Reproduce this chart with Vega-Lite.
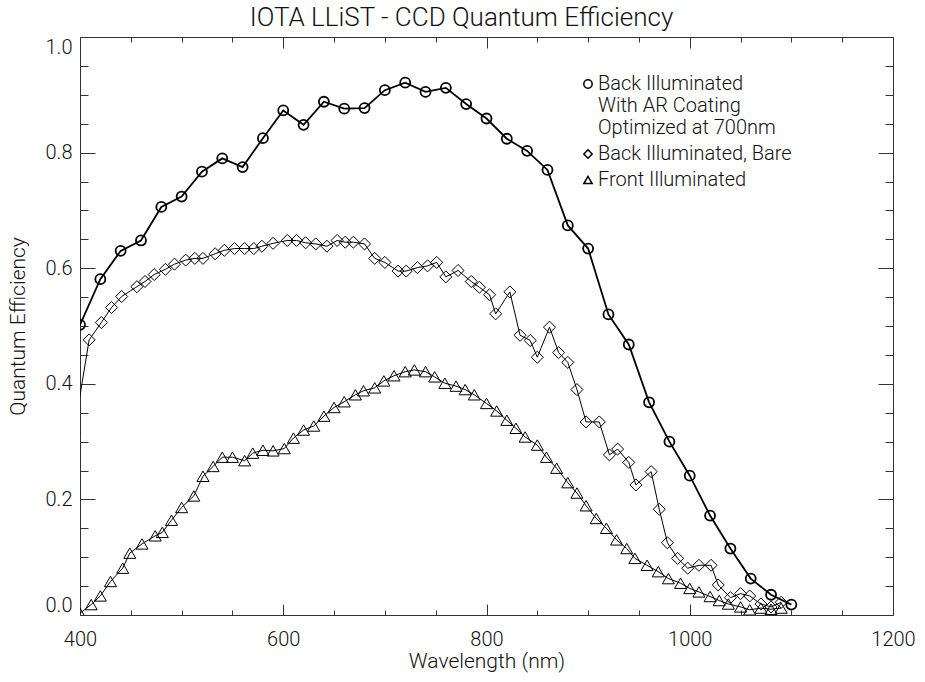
{
  "$schema": "https://vega.github.io/schema/vega-lite/v6.json",
  "width": 813,
  "height": 578,
  "autosize": "none",
  "padding": {"left": 80, "top": 37, "right": 32, "bottom": 67},
  "background": "white",
  "config": {
    "font": "Roboto",
    "view": {"stroke": null},
    "axis": {
      "domainColor": "#333",
      "tickColor": "#333",
      "labelColor": "#111",
      "titleColor": "#111",
      "labelFont": "Roboto",
      "titleFont": "Roboto",
      "labelFontSize": 20,
      "labelFontWeight": 300,
      "titleFontSize": 21,
      "titleFontWeight": 300,
      "grid": false,
      "domainWidth": 1,
      "tickWidth": 1
    }
  },
  "title": {
    "text": "IOTA LLiST - CCD Quantum Efficiency",
    "font": "Roboto",
    "fontSize": 26,
    "fontWeight": 300,
    "color": "#111",
    "anchor": "middle",
    "offset": 6,
    "dx": -25
  },
  "data": {
    "values": [
      {"series": "AR", "wl": 400, "qe": 0.502},
      {"series": "AR", "wl": 420, "qe": 0.581},
      {"series": "AR", "wl": 440, "qe": 0.630},
      {"series": "AR", "wl": 460, "qe": 0.648},
      {"series": "AR", "wl": 480, "qe": 0.706},
      {"series": "AR", "wl": 500, "qe": 0.724},
      {"series": "AR", "wl": 520, "qe": 0.767},
      {"series": "AR", "wl": 540, "qe": 0.790},
      {"series": "AR", "wl": 560, "qe": 0.775},
      {"series": "AR", "wl": 580, "qe": 0.825},
      {"series": "AR", "wl": 600, "qe": 0.873},
      {"series": "AR", "wl": 620, "qe": 0.848},
      {"series": "AR", "wl": 640, "qe": 0.888},
      {"series": "AR", "wl": 660, "qe": 0.876},
      {"series": "AR", "wl": 680, "qe": 0.877},
      {"series": "AR", "wl": 700, "qe": 0.908},
      {"series": "AR", "wl": 720, "qe": 0.921},
      {"series": "AR", "wl": 740, "qe": 0.905},
      {"series": "AR", "wl": 760, "qe": 0.912},
      {"series": "AR", "wl": 780, "qe": 0.884},
      {"series": "AR", "wl": 800, "qe": 0.859},
      {"series": "AR", "wl": 820, "qe": 0.824},
      {"series": "AR", "wl": 840, "qe": 0.803},
      {"series": "AR", "wl": 860, "qe": 0.770},
      {"series": "AR", "wl": 880, "qe": 0.674},
      {"series": "AR", "wl": 900, "qe": 0.634},
      {"series": "AR", "wl": 920, "qe": 0.520},
      {"series": "AR", "wl": 940, "qe": 0.468},
      {"series": "AR", "wl": 960, "qe": 0.368},
      {"series": "AR", "wl": 980, "qe": 0.300},
      {"series": "AR", "wl": 1000, "qe": 0.241},
      {"series": "AR", "wl": 1020, "qe": 0.172},
      {"series": "AR", "wl": 1040, "qe": 0.115},
      {"series": "AR", "wl": 1060, "qe": 0.063},
      {"series": "AR", "wl": 1080, "qe": 0.035},
      {"series": "AR", "wl": 1100, "qe": 0.018},
      {"series": "Bare", "wl": 394, "qe": 0.316},
      {"series": "Bare", "wl": 409, "qe": 0.476},
      {"series": "Bare", "wl": 421, "qe": 0.506},
      {"series": "Bare", "wl": 431, "qe": 0.532},
      {"series": "Bare", "wl": 441, "qe": 0.551},
      {"series": "Bare", "wl": 456, "qe": 0.568},
      {"series": "Bare", "wl": 464, "qe": 0.577},
      {"series": "Bare", "wl": 473, "qe": 0.589},
      {"series": "Bare", "wl": 484, "qe": 0.598},
      {"series": "Bare", "wl": 493, "qe": 0.607},
      {"series": "Bare", "wl": 504, "qe": 0.614},
      {"series": "Bare", "wl": 513, "qe": 0.617},
      {"series": "Bare", "wl": 521, "qe": 0.617},
      {"series": "Bare", "wl": 533, "qe": 0.625},
      {"series": "Bare", "wl": 542, "qe": 0.631},
      {"series": "Bare", "wl": 552, "qe": 0.634},
      {"series": "Bare", "wl": 562, "qe": 0.634},
      {"series": "Bare", "wl": 571, "qe": 0.634},
      {"series": "Bare", "wl": 579, "qe": 0.638},
      {"series": "Bare", "wl": 590, "qe": 0.643},
      {"series": "Bare", "wl": 604, "qe": 0.648},
      {"series": "Bare", "wl": 613, "qe": 0.648},
      {"series": "Bare", "wl": 622, "qe": 0.644},
      {"series": "Bare", "wl": 632, "qe": 0.642},
      {"series": "Bare", "wl": 643, "qe": 0.638},
      {"series": "Bare", "wl": 653, "qe": 0.648},
      {"series": "Bare", "wl": 661, "qe": 0.645},
      {"series": "Bare", "wl": 669, "qe": 0.645},
      {"series": "Bare", "wl": 680, "qe": 0.642},
      {"series": "Bare", "wl": 690, "qe": 0.617},
      {"series": "Bare", "wl": 700, "qe": 0.610},
      {"series": "Bare", "wl": 713, "qe": 0.595},
      {"series": "Bare", "wl": 721, "qe": 0.595},
      {"series": "Bare", "wl": 732, "qe": 0.601},
      {"series": "Bare", "wl": 742, "qe": 0.604},
      {"series": "Bare", "wl": 751, "qe": 0.610},
      {"series": "Bare", "wl": 760, "qe": 0.585},
      {"series": "Bare", "wl": 772, "qe": 0.596},
      {"series": "Bare", "wl": 785, "qe": 0.577},
      {"series": "Bare", "wl": 793, "qe": 0.567},
      {"series": "Bare", "wl": 803, "qe": 0.554},
      {"series": "Bare", "wl": 809, "qe": 0.521},
      {"series": "Bare", "wl": 823, "qe": 0.559},
      {"series": "Bare", "wl": 833, "qe": 0.484},
      {"series": "Bare", "wl": 843, "qe": 0.475},
      {"series": "Bare", "wl": 850, "qe": 0.446},
      {"series": "Bare", "wl": 862, "qe": 0.498},
      {"series": "Bare", "wl": 871, "qe": 0.454},
      {"series": "Bare", "wl": 880, "qe": 0.437},
      {"series": "Bare", "wl": 889, "qe": 0.390},
      {"series": "Bare", "wl": 898, "qe": 0.334},
      {"series": "Bare", "wl": 911, "qe": 0.334},
      {"series": "Bare", "wl": 921, "qe": 0.277},
      {"series": "Bare", "wl": 929, "qe": 0.287},
      {"series": "Bare", "wl": 940, "qe": 0.264},
      {"series": "Bare", "wl": 947, "qe": 0.225},
      {"series": "Bare", "wl": 962, "qe": 0.248},
      {"series": "Bare", "wl": 970, "qe": 0.183},
      {"series": "Bare", "wl": 978, "qe": 0.125},
      {"series": "Bare", "wl": 988, "qe": 0.098},
      {"series": "Bare", "wl": 998, "qe": 0.081},
      {"series": "Bare", "wl": 1009, "qe": 0.086},
      {"series": "Bare", "wl": 1021, "qe": 0.086},
      {"series": "Bare", "wl": 1028, "qe": 0.052},
      {"series": "Bare", "wl": 1040, "qe": 0.030},
      {"series": "Bare", "wl": 1050, "qe": 0.037},
      {"series": "Bare", "wl": 1059, "qe": 0.033},
      {"series": "Bare", "wl": 1070, "qe": 0.019},
      {"series": "Bare", "wl": 1080, "qe": 0.014},
      {"series": "Bare", "wl": 1090, "qe": 0.022},
      {"series": "Front", "wl": 400, "qe": 0.003},
      {"series": "Front", "wl": 411, "qe": 0.018},
      {"series": "Front", "wl": 420, "qe": 0.033},
      {"series": "Front", "wl": 430, "qe": 0.058},
      {"series": "Front", "wl": 442, "qe": 0.081},
      {"series": "Front", "wl": 449, "qe": 0.107},
      {"series": "Front", "wl": 461, "qe": 0.123},
      {"series": "Front", "wl": 474, "qe": 0.137},
      {"series": "Front", "wl": 481, "qe": 0.143},
      {"series": "Front", "wl": 490, "qe": 0.164},
      {"series": "Front", "wl": 500, "qe": 0.186},
      {"series": "Front", "wl": 512, "qe": 0.206},
      {"series": "Front", "wl": 521, "qe": 0.240},
      {"series": "Front", "wl": 531, "qe": 0.257},
      {"series": "Front", "wl": 540, "qe": 0.273},
      {"series": "Front", "wl": 550, "qe": 0.273},
      {"series": "Front", "wl": 562, "qe": 0.267},
      {"series": "Front", "wl": 570, "qe": 0.280},
      {"series": "Front", "wl": 580, "qe": 0.285},
      {"series": "Front", "wl": 590, "qe": 0.284},
      {"series": "Front", "wl": 601, "qe": 0.288},
      {"series": "Front", "wl": 610, "qe": 0.306},
      {"series": "Front", "wl": 620, "qe": 0.320},
      {"series": "Front", "wl": 630, "qe": 0.327},
      {"series": "Front", "wl": 640, "qe": 0.344},
      {"series": "Front", "wl": 650, "qe": 0.359},
      {"series": "Front", "wl": 660, "qe": 0.369},
      {"series": "Front", "wl": 671, "qe": 0.381},
      {"series": "Front", "wl": 679, "qe": 0.388},
      {"series": "Front", "wl": 690, "qe": 0.393},
      {"series": "Front", "wl": 699, "qe": 0.405},
      {"series": "Front", "wl": 709, "qe": 0.414},
      {"series": "Front", "wl": 720, "qe": 0.421},
      {"series": "Front", "wl": 729, "qe": 0.424},
      {"series": "Front", "wl": 740, "qe": 0.421},
      {"series": "Front", "wl": 749, "qe": 0.412},
      {"series": "Front", "wl": 759, "qe": 0.401},
      {"series": "Front", "wl": 770, "qe": 0.396},
      {"series": "Front", "wl": 779, "qe": 0.390},
      {"series": "Front", "wl": 788, "qe": 0.381},
      {"series": "Front", "wl": 800, "qe": 0.366},
      {"series": "Front", "wl": 810, "qe": 0.353},
      {"series": "Front", "wl": 820, "qe": 0.337},
      {"series": "Front", "wl": 829, "qe": 0.323},
      {"series": "Front", "wl": 838, "qe": 0.308},
      {"series": "Front", "wl": 850, "qe": 0.294},
      {"series": "Front", "wl": 859, "qe": 0.273},
      {"series": "Front", "wl": 869, "qe": 0.254},
      {"series": "Front", "wl": 880, "qe": 0.229},
      {"series": "Front", "wl": 889, "qe": 0.211},
      {"series": "Front", "wl": 898, "qe": 0.189},
      {"series": "Front", "wl": 908, "qe": 0.167},
      {"series": "Front", "wl": 918, "qe": 0.150},
      {"series": "Front", "wl": 928, "qe": 0.130},
      {"series": "Front", "wl": 938, "qe": 0.115},
      {"series": "Front", "wl": 946, "qe": 0.098},
      {"series": "Front", "wl": 958, "qe": 0.086},
      {"series": "Front", "wl": 969, "qe": 0.075},
      {"series": "Front", "wl": 979, "qe": 0.063},
      {"series": "Front", "wl": 991, "qe": 0.055},
      {"series": "Front", "wl": 1000, "qe": 0.046},
      {"series": "Front", "wl": 1009, "qe": 0.040},
      {"series": "Front", "wl": 1020, "qe": 0.032},
      {"series": "Front", "wl": 1029, "qe": 0.025},
      {"series": "Front", "wl": 1038, "qe": 0.019},
      {"series": "Front", "wl": 1050, "qe": 0.014},
      {"series": "Front", "wl": 1059, "qe": 0.009},
      {"series": "Front", "wl": 1070, "qe": 0.012},
      {"series": "Front", "wl": 1080, "qe": 0.010},
      {"series": "Front", "wl": 1090, "qe": 0.012}
    ]
  },
  "layer": [
    {
      "encoding": {
        "x": {
          "field": "wl",
          "type": "quantitative",
          "scale": {"domain": [400, 1200], "nice": false, "zero": false},
          "axis": {
            "orient": "bottom",
            "title": "Wavelength (nm)",
            "values": [400, 450, 500, 550, 600, 650, 700, 750, 800, 850, 900, 950, 1000, 1050, 1100, 1150, 1200],
            "format": "d",
            "labelExpr": "datum.value % 200 === 0 ? datum.label : ''",
            "tickSize": {"condition": {"test": "datum.value % 200 === 0", "value": -11}, "value": -5},
            "labelPadding": 25,
            "labelFlush": false,
            "labelOverlap": false,
            "titlePadding": -5
          }
        },
        "y": {
          "field": "qe",
          "type": "quantitative",
          "scale": {"domain": [0, 1], "nice": false, "zero": false},
          "axis": {
            "orient": "left",
            "title": "Quantum Efficiency",
            "values": [0, 0.05, 0.1, 0.15, 0.2, 0.25, 0.3, 0.35, 0.4, 0.45, 0.5, 0.55, 0.6, 0.65, 0.7, 0.75, 0.8, 0.85, 0.9, 0.95, 1],
            "format": ".1f",
            "labelExpr": "abs(datum.value * 5 - round(datum.value * 5)) < 0.000001 ? datum.label : ''",
            "tickSize": {"condition": {"test": "abs(datum.value * 5 - round(datum.value * 5)) < 0.000001", "value": -15}, "value": -8},
            "labelPadding": 23,
            "labelFlush": true,
            "labelOverlap": false,
            "titlePadding": 17
          }
        },
        "shape": {
          "field": "series",
          "type": "nominal",
          "scale": {"domain": ["AR", "Bare", "Front"], "range": ["circle", "diamond", "triangle-up"]},
          "legend": {
            "orient": "none",
            "legendX": 498,
            "legendY": 37,
            "title": null,
            "labelExpr": "datum.value === 'AR' ? ['Back Illuminated', 'With AR Coating', 'Optimized at 700nm'] : datum.value === 'Bare' ? 'Back Illuminated, Bare' : 'Front Illuminated'",
            "labelFont": "Roboto",
            "labelFontSize": 20,
            "labelFontWeight": 300,
            "labelColor": "#111",
            "labelLimit": 400,
            "labelOffset": 0,
            "symbolSize": 70,
            "symbolStrokeColor": "black",
            "symbolFillColor": "transparent",
            "symbolStrokeWidth": 1.5,
            "rowPadding": 6,
            "encode": {"labels": {"update": {"lineHeight": {"value": 20}}}}
          }
        }
      },
      "layer": [
        {
          "transform": [{"filter": "datum.series === 'AR'"}],
          "mark": {"type": "line", "color": "black", "strokeWidth": 1.8, "clip": true},
          "encoding": {"shape": null}
        },
        {
          "transform": [{"filter": "datum.series !== 'AR'"}],
          "mark": {"type": "line", "color": "black", "strokeWidth": 1, "clip": true},
          "encoding": {"shape": null, "detail": {"field": "series", "type": "nominal"}}
        },
        {
          "transform": [{"filter": "datum.series === 'AR'"}],
          "mark": {"type": "point", "filled": false, "color": "black", "opacity": 1, "size": 100, "strokeWidth": 1.8, "clip": true}
        },
        {
          "transform": [{"filter": "datum.series !== 'AR'"}],
          "mark": {"type": "point", "filled": false, "color": "black", "opacity": 1, "size": 145, "strokeWidth": 1, "clip": true}
        }
      ]
    },
    {
      "mark": {"type": "point", "opacity": 0},
      "encoding": {
        "x": {
          "field": "wl",
          "type": "quantitative",
          "scale": {"domain": [400, 1200], "nice": false, "zero": false},
          "axis": {
            "orient": "top",
            "title": null,
            "values": [400, 450, 500, 550, 600, 650, 700, 750, 800, 850, 900, 950, 1000, 1050, 1100, 1150, 1200],
            "labels": false,
            "tickSize": {"condition": {"test": "datum.value % 200 === 0", "value": -11}, "value": -5}
          }
        },
        "y": {
          "field": "qe",
          "type": "quantitative",
          "scale": {"domain": [0, 1], "nice": false, "zero": false},
          "axis": {
            "orient": "right",
            "title": null,
            "values": [0, 0.05, 0.1, 0.15, 0.2, 0.25, 0.3, 0.35, 0.4, 0.45, 0.5, 0.55, 0.6, 0.65, 0.7, 0.75, 0.8, 0.85, 0.9, 0.95, 1],
            "labels": false,
            "tickSize": {"condition": {"test": "abs(datum.value * 5 - round(datum.value * 5)) < 0.000001", "value": -15}, "value": -8}
          }
        }
      }
    }
  ],
  "resolve": {"scale": {"x": "independent", "y": "independent"}}
}
